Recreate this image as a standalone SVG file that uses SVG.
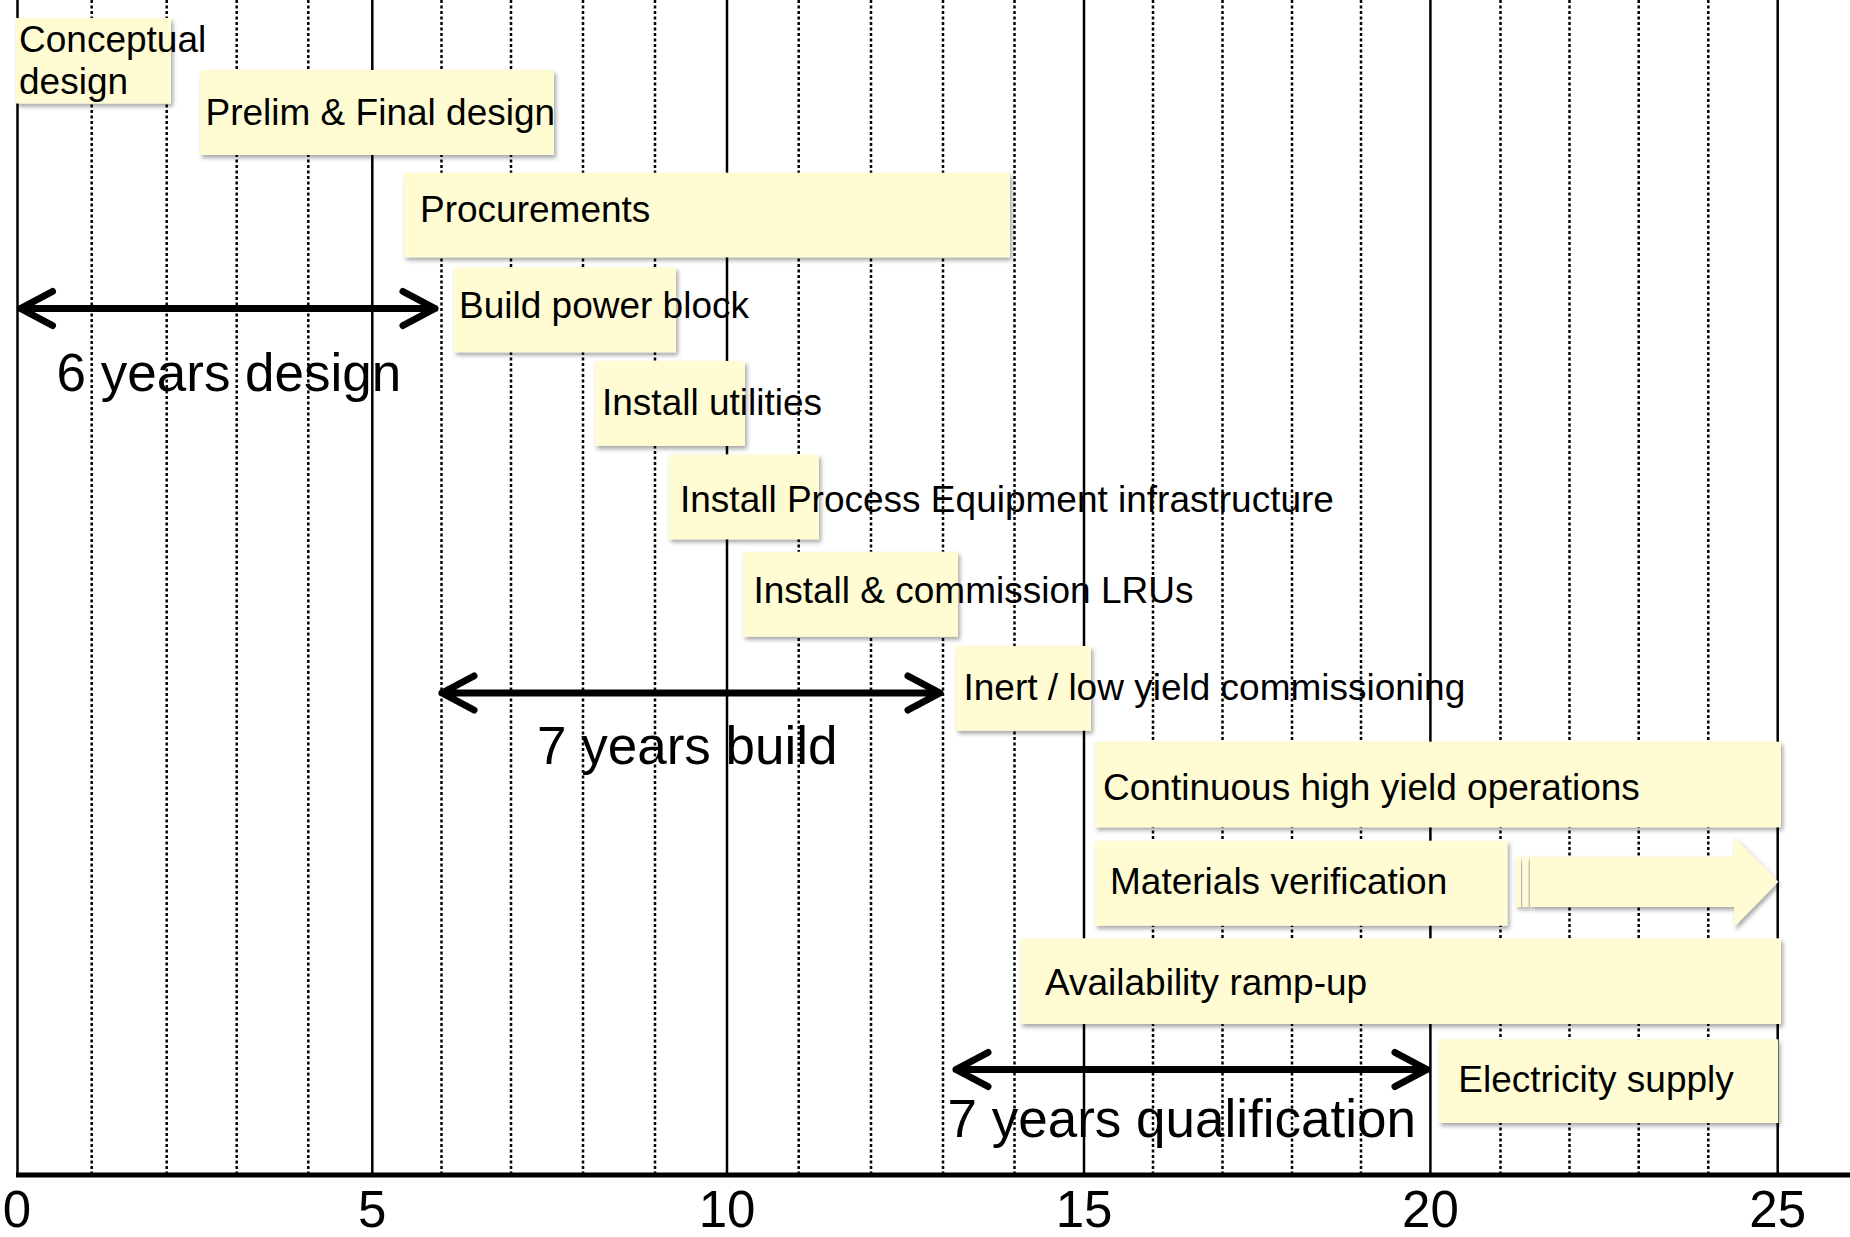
<svg xmlns="http://www.w3.org/2000/svg" width="1850" height="1237" viewBox="0 0 1850 1237">
<defs>
<filter id="sh" x="-5%" y="-10%" width="112%" height="130%">
<feDropShadow dx="2" dy="3" stdDeviation="2" flood-color="#000" flood-opacity="0.35"/>
</filter>
<style>
.solid{stroke:#000;stroke-width:2.5;fill:none}
.dot{stroke:#000;stroke-width:2.5;stroke-dasharray:3 2.5;fill:none}
.box{fill:#FFFCD3;filter:url(#sh)}
.lbl{font-family:"Liberation Sans",Arial,sans-serif;font-size:37px;fill:#000}
.big{font-family:"Liberation Sans",Arial,sans-serif;font-size:53px;fill:#000}
.tick{font-family:"Liberation Sans",Arial,sans-serif;font-size:51px;fill:#000;text-anchor:middle}
.arr{stroke:#000;stroke-width:7;fill:none;stroke-linecap:round;stroke-linejoin:round}
</style>
</defs>
<rect width="1850" height="1237" fill="#fff"/>
<g id="grid">
<path class="dot" d="M91.7 0V1175M166.7 0V1175M236.7 0V1175M308.3 0V1175M441.5 0V1175M511 0V1175M583 0V1175M655 0V1175M798.7 0V1175M871 0V1175M943 0V1175M1014.5 0V1175M1153 0V1175M1222.5 0V1175M1292 0V1175M1361 0V1175M1500.5 0V1175M1569.5 0V1175M1638.7 0V1175M1708.3 0V1175"/>
<path class="solid" d="M17.5 0V1175M372.3 0V1175M727 0V1175M1084 0V1175M1430.4 0V1175M1777.7 0V1175"/>
<line x1="16" y1="1175" x2="1850" y2="1175" stroke="#000" stroke-width="5"/>
<text class="tick" x="17" y="1227">0</text>
<text class="tick" x="372.3" y="1227">5</text>
<text class="tick" x="727" y="1227">10</text>
<text class="tick" x="1084" y="1227">15</text>
<text class="tick" x="1430.4" y="1227">20</text>
<text class="tick" x="1777.7" y="1227">25</text>
</g>
<g id="conceptual">
<rect class="box" x="16" y="18" width="155" height="85.5"/>
<text class="lbl" x="19" y="51.5">Conceptual</text>
<text class="lbl" x="19" y="94">design</text>
</g>
<g id="prelim">
<rect class="box" x="200" y="70" width="354" height="85"/>
<text class="lbl" x="205.5" y="124.5">Prelim &amp; Final design</text>
</g>
<g id="procurements">
<rect class="box" x="404" y="172.7" width="606" height="84.6"/>
<text class="lbl" x="420" y="222">Procurements</text>
</g>
<g id="build">
<rect class="box" x="454" y="267.3" width="222" height="85"/>
<text class="lbl" x="459" y="318.3">Build power block</text>
</g>
<g id="utilities">
<rect class="box" x="595" y="361" width="150" height="85"/>
<text class="lbl" x="602" y="415">Install utilities</text>
</g>
<g id="process">
<rect class="box" x="669" y="454.3" width="150" height="85"/>
<text class="lbl" x="680" y="512">Install Process Equipment infrastructure</text>
</g>
<g id="lrus">
<rect class="box" x="743" y="551.7" width="215" height="85"/>
<text class="lbl" x="753.4" y="602.7">Install &amp; commission LRUs</text>
</g>
<g id="inert">
<rect class="box" x="956" y="646" width="135" height="84.7"/>
<text class="lbl" x="963.5" y="700">Inert / low yield commissioning</text>
</g>
<g id="continuous">
<rect class="box" x="1095" y="741.7" width="686" height="85.6"/>
<text class="lbl" x="1103" y="800">Continuous high yield operations</text>
</g>
<g id="materials">
<rect class="box" x="1095" y="840.7" width="412.5" height="85"/>
<text class="lbl" x="1110" y="894">Materials verification</text>
<g filter="url(#sh)" fill="#FFFCD3">
<rect x="1516" y="856.5" width="5" height="50.5"/>
<rect x="1522.3" y="856.5" width="6" height="50.5"/>
<path d="M1530 856.5H1734V836.7L1778.3 881.7L1734 927.3V907H1530Z"/>
</g>
</g>
<g id="availability">
<rect class="box" x="1020.5" y="938.3" width="760.5" height="85.7"/>
<text class="lbl" x="1045" y="995">Availability ramp-up</text>
</g>
<g id="electricity">
<rect class="box" x="1438.8" y="1039.3" width="339.5" height="83.7"/>
<text class="lbl" x="1458.3" y="1092">Electricity supply</text>
</g>
<g id="connectors">
<path class="arr" d="M20.5 308.5H435M52.5 291.5L20.5 308.5L52.5 325.5M403 291.5L435 308.5L403 325.5"/>
<path class="arr" d="M442 693H940M474 676L442 693L474 710M908 676L940 693L908 710"/>
<path class="arr" d="M956 1069.5H1427M988 1052.5L956 1069.5L988 1086.5M1395 1052.5L1427 1069.5L1395 1086.5"/>
</g>
<g id="labels">
<text class="big" x="56.6" y="390.5">6 years design</text>
<text class="big" x="537" y="764">7 years build</text>
<text class="big" x="947.5" y="1137">7 years qualification</text>
</g>
</svg>
